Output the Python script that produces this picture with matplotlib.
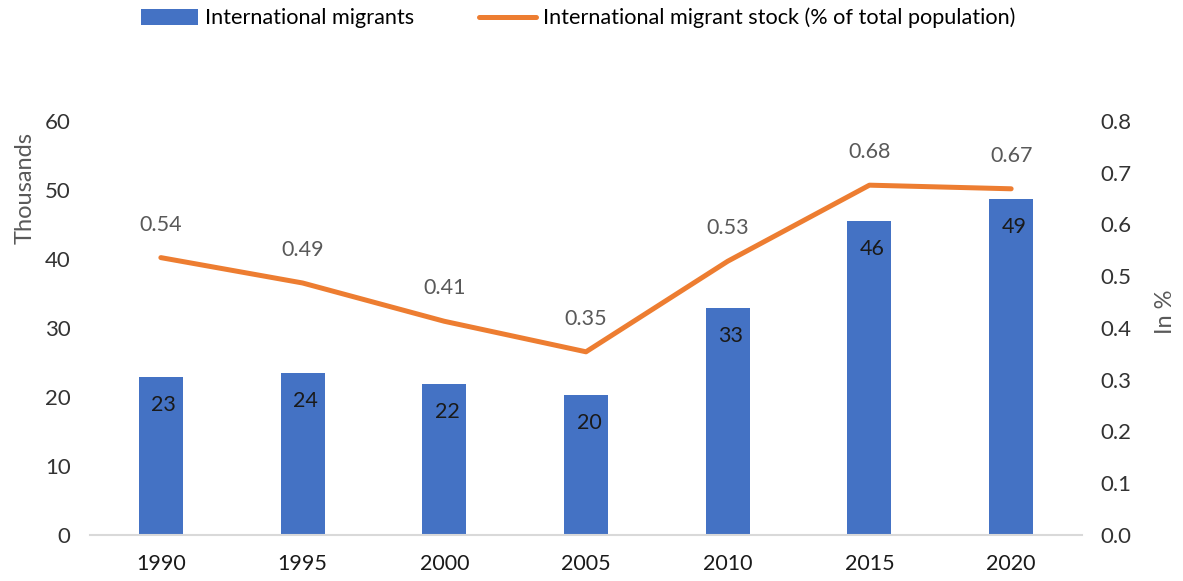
import numpy as np
import matplotlib
matplotlib.use("Agg")
import matplotlib.pyplot as plt

# Data
years = ["1990", "1995", "2000", "2005", "2010", "2015", "2020"]
migrants_thousands = [22.9, 23.5, 21.9, 20.3, 32.9, 45.5, 48.7]
migrant_share_pct = [0.536, 0.487, 0.413, 0.354, 0.529, 0.676, 0.669]

blue = "#4472C4"
orange = "#ED7D31"
grey = "#595959"
dark = "#333333"

plt.rcParams["font.family"] = ["Lato", "DejaVu Sans"]
plt.rcParams["font.size"] = 15

fig = plt.figure(figsize=(11.83, 5.81), dpi=100)
ax = fig.add_axes([90 / 1183, 46 / 581, 992 / 1183, 414 / 581])
ax2 = ax.twinx()

x = np.arange(len(years))

# Bars (left axis)
bars = ax.bar(x, migrants_thousands, width=0.31, color=blue, zorder=2,
              label="International migrants")
for xi, v in zip(x, migrants_thousands):
    ax.annotate(format(v, ".0f"), (xi, v), xytext=(3, -28),
                textcoords="offset pixels", ha="center", va="center",
                color="#1a1a1a", fontsize=15.5)

# Line (right axis)
line, = ax2.plot(x, migrant_share_pct, color=orange, lw=3.6,
                 solid_capstyle="round", solid_joinstyle="round",
                 label="International migrant stock (% of total population)")
for xi, v in zip(x, migrant_share_pct):
    ax2.annotate(format(v, ".2f"), (xi, v), xytext=(0, 33),
                 textcoords="offset pixels", ha="center", va="center",
                 color=grey, fontsize=15.5)

ax.set_xlim(-0.5, len(years) - 0.5)
ax.set_ylim(0, 60)
ax.set_yticks(range(0, 61, 10))
ax2.set_ylim(0, 0.8)
ax2.set_yticks(np.arange(0, 0.81, 0.1))
ax2.set_yticklabels([format(t, ".1f") for t in np.arange(0, 0.81, 0.1)])

ax.set_xticks(x)
ax.set_xticklabels(years)

for a in (ax, ax2):
    for s in a.spines.values():
        s.set_visible(False)
ax.spines["bottom"].set_visible(True)
ax.spines["bottom"].set_color("#D9D9D9")
ax.spines["bottom"].set_linewidth(1.5)

ax.tick_params(axis="y", length=0, pad=14, colors=dark, labelsize=16)
ax.tick_params(axis="x", length=0, pad=14, colors="#1a1a1a", labelsize=15.5)
ax2.tick_params(axis="y", length=0, pad=13, colors=dark, labelsize=16)

ax.set_ylabel("Thousands", color=grey, fontsize=17)
ax.yaxis.set_label_coords(-0.055, 0.838)
ax2.set_ylabel("In %", color=grey, fontsize=17)
ax2.yaxis.set_label_coords(1.074, 0.539)

fig.legend(handles=[bars, line], loc="center", bbox_to_anchor=(0.489, 0.969),
           ncol=2, frameon=False, fontsize=15.6, handlelength=2.6,
           handleheight=0.75, handletextpad=0.35, columnspacing=3.0)

fig.savefig("out.png", dpi=100)
